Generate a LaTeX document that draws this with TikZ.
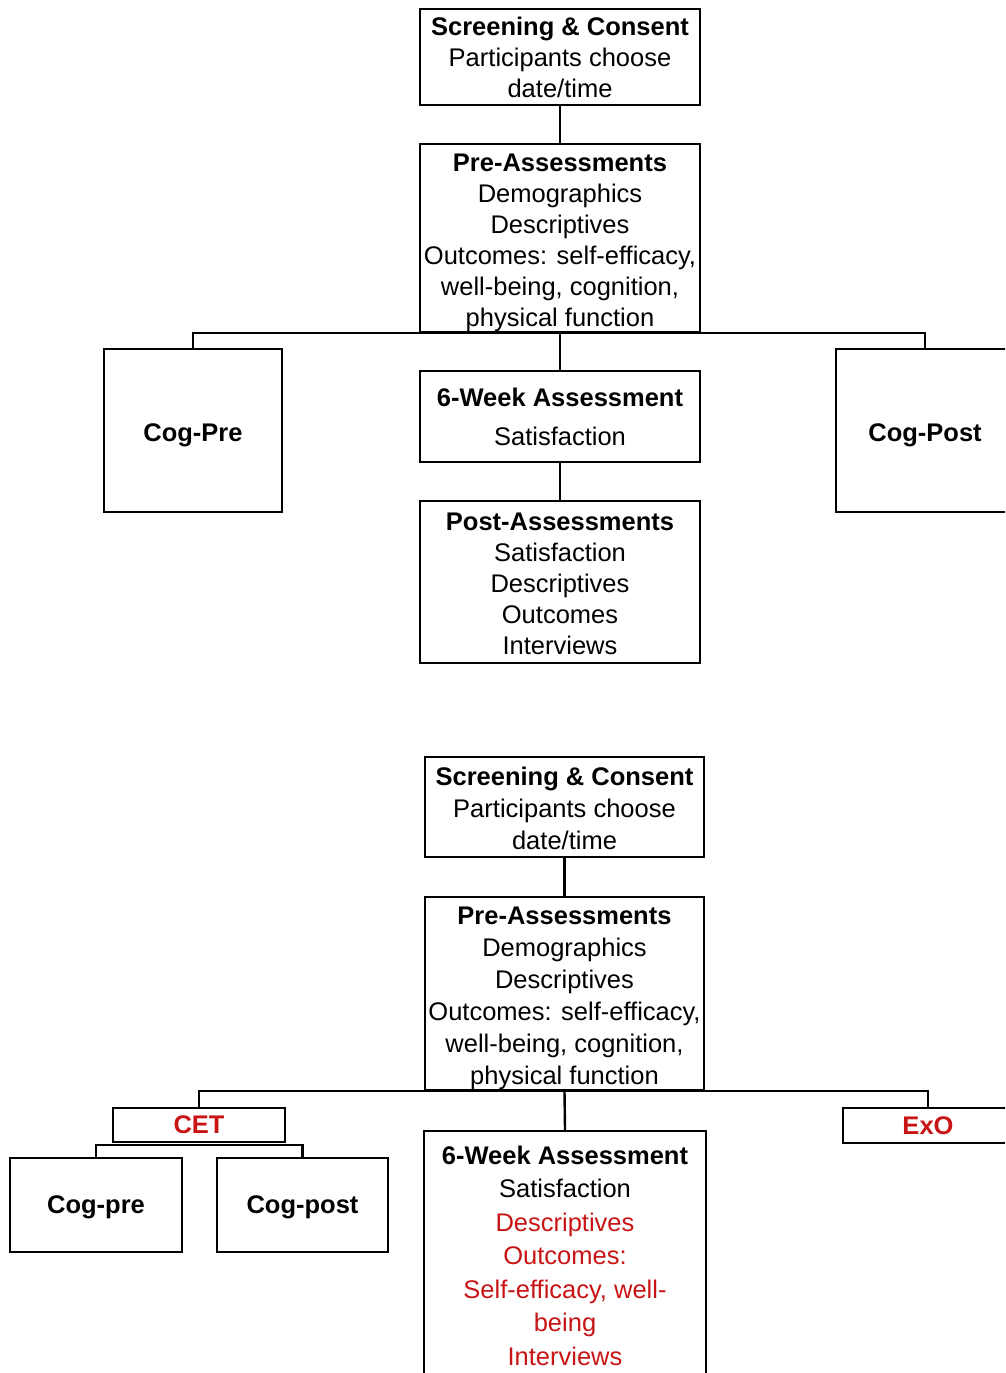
\documentclass[tikz,border=0pt]{standalone}
\usepackage{fontspec}
\setmainfont{Liberation Sans}
\definecolor{cred}{RGB}{200,20,20}
\begin{document}
\begin{tikzpicture}[x=1pt,y=-1pt,
  box/.style={draw, line width=2.4pt, inner sep=0pt, align=center, font=\fontsize{25.5}{31}\selectfont},
  boxb/.style={box, font=\fontsize{25.5}{32}\selectfont},
  boxc/.style={box, font=\fontsize{25.5}{33.5}\selectfont},
  txta/.style={align=center, inner sep=0pt, font=\fontsize{25.5}{31}\selectfont},
  txtb/.style={align=center, inner sep=0pt, font=\fontsize{25.5}{32}\selectfont},
  conn/.style={line width=2.4pt}]
\useasboundingbox (0,0) rectangle (1005,1373);
\clip (0,0) rectangle (1005,1373);
% ---------- top diagram ----------
\node[box, minimum width=280pt, minimum height=96pt] (scr1) at (560,57)
  {\textbf{Screening \& Consent}\\Participants choose\\date/time};
\node[box, minimum width=280pt, minimum height=188pt,
  label={[txta, yshift=-4.5pt]center:{\textbf{Pre-Assessments}\\Demographics\\Descriptives\\Outcomes: self-efficacy,\\well-being, cognition,\\physical function}}] (pre1) at (560,238) {};
\node[box, minimum width=178pt, minimum height=163pt,
  label={[txta, yshift=-5pt]center:{\textbf{Cog-Pre}}}] (cogpre1) at (193,430.5) {};
\node[box, minimum width=178pt, minimum height=163pt,
  label={[txta, yshift=-5pt]center:{\textbf{Cog-Post}}}] (cogpost1) at (925,430.5) {};
\node[box, minimum width=280pt, minimum height=91pt] (wk1) at (560,416.5)
  {\textbf{6-Week Assessment}\\[8pt]Satisfaction};
\node[box, minimum width=280pt, minimum height=162pt,
  label={[txta, yshift=-2pt]center:{\textbf{Post-Assessments}\\Satisfaction\\Descriptives\\Outcomes\\Interviews}}] (post1) at (560,582) {};
\coordinate (bar1) at (560,333);
\draw[conn] (scr1.south) -- (pre1.north);
\draw[conn] (pre1.south) -- (wk1.north);
\draw[conn] (wk1.south) -- (post1.north);
\draw[conn] (cogpre1.north) |- (bar1) -| (cogpost1.north);
% ---------- bottom diagram ----------
\node[boxb, minimum width=279pt, minimum height=100pt,
  label={[txtb, yshift=-1.5pt]center:{\textbf{Screening \& Consent}\\Participants choose\\date/time}}] (scr2) at (564.5,807) {};
\node[boxb, minimum width=279pt, minimum height=193pt,
  label={[txtb, yshift=-5pt]center:{\textbf{Pre-Assessments}\\Demographics\\Descriptives\\Outcomes: self-efficacy,\\well-being, cognition,\\physical function}}] (pre2) at (564.5,993.5) {};
\node[box, minimum width=172pt, minimum height=34pt] (cet) at (199,1125) {\textcolor{cred}{\textbf{CET}}};
\node[box, minimum width=170pt, minimum height=35pt] (exo) at (928,1125.5) {\textcolor{cred}{\textbf{ExO}}};
\node[box, minimum width=172pt, minimum height=94pt,
  label={[txta, yshift=-2pt]center:{\textbf{Cog-pre}}}] (cogpre2) at (96,1205) {};
\node[box, minimum width=171pt, minimum height=94pt,
  label={[txta, yshift=-2pt]center:{\textbf{Cog-post}}}] (cogpost2) at (302.5,1205) {};
\node[boxc, minimum width=282pt, minimum height=249pt] (wk2) at (565,1255.5)
  {\textbf{6-Week Assessment}\\Satisfaction\\\textcolor{cred}{Descriptives}\\\textcolor{cred}{Outcomes:}\\\textcolor{cred}{Self-efficacy, well-}\\\textcolor{cred}{being}\\\textcolor{cred}{Interviews}};
\coordinate (bar2) at (564.5,1091);
\coordinate (bar3) at (199,1145);
\draw[conn] (scr2.south) -- (pre2.north);
\draw[conn] (pre2.south) -- (wk2.north);
\draw[conn] (cet.north) |- (bar2) -| (exo.north);
\draw[conn] (cogpre2.north) |- (bar3) -| (cogpost2.north);
\end{tikzpicture}
\end{document}
